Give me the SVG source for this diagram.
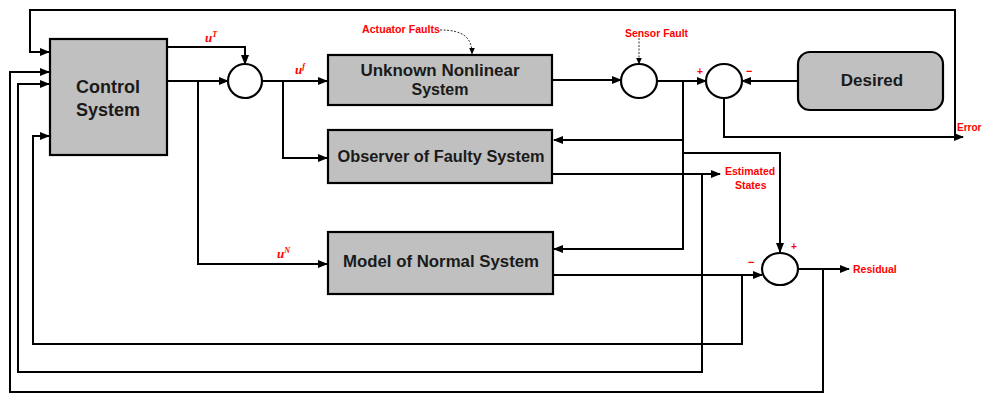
<svg xmlns="http://www.w3.org/2000/svg" width="984" height="394" viewBox="0 0 984 394">
<style>
.box{fill:#c0c0c0;stroke:#000;stroke-width:2.2}
.sum{fill:#fff;stroke:#000;stroke-width:2.2}
.t{font-family:"Liberation Sans",Arial,sans-serif;font-weight:bold;fill:#1a1a1a;text-anchor:middle}
.r{font-family:"Liberation Sans",Arial,sans-serif;font-weight:bold;fill:#ff0000}
.u{font-family:"Liberation Serif","Times New Roman",serif;font-weight:bold;font-style:italic;fill:#ff0000}
.ln{fill:none;stroke:#000;stroke-width:2}
.dot{fill:none;stroke:#333;stroke-width:1;stroke-dasharray:2 1.5}
</style>
<defs>
<marker id="ah" markerUnits="userSpaceOnUse" markerWidth="10" markerHeight="8" refX="9" refY="4" orient="auto">
<path d="M0,0 L10,4 L0,8 Z" fill="#000"/>
</marker>
<marker id="ahs" markerUnits="userSpaceOnUse" markerWidth="7" markerHeight="6" refX="6.5" refY="3" orient="auto">
<path d="M0,0 L7,3 L0,6 Z" fill="#000"/>
</marker>
</defs>
<rect width="984" height="394" fill="#fff"/>
<g id="connectors">
<path class="ln" d="M724,98 V137 H963" marker-end="url(#ah)"/>
<path class="ln" d="M955,137 V10 H30 V52 H49" marker-end="url(#ah)"/>
<path class="ln" d="M823,269 V392 H10 V72 H49" marker-end="url(#ah)"/>
<path class="ln" d="M702,174 V372 H18 V84 H49" marker-end="url(#ah)"/>
<path class="ln" d="M742,275 V344 H33 V136 H49" marker-end="url(#ah)"/>
<path class="ln" d="M167,47 H245 V64" marker-end="url(#ah)"/>
<path class="ln" d="M167,81 H228" marker-end="url(#ah)"/>
<path class="ln" d="M198,81 V264 H327" marker-end="url(#ah)"/>
<path class="ln" d="M262,81 H327" marker-end="url(#ah)"/>
<path class="ln" d="M283,81 V158 H327" marker-end="url(#ah)"/>
<path class="ln" d="M552,80 H621" marker-end="url(#ah)"/>
<path class="ln" d="M657,81 H706" marker-end="url(#ah)"/>
<path class="ln" d="M798,81 H742" marker-end="url(#ah)"/>
<path class="ln" d="M683,81 V249 H554" marker-end="url(#ah)"/>
<path class="ln" d="M683,140 H554" marker-end="url(#ah)"/>
<path class="ln" d="M683,153 H780 V252" marker-end="url(#ah)"/>
<path class="ln" d="M552,174 H720" marker-end="url(#ah)"/>
<path class="ln" d="M552,275 H762" marker-end="url(#ah)"/>
<path class="ln" d="M798,269 H849" marker-end="url(#ah)"/>
<path class="dot" d="M440,30 C464,30 472,38 472,54" marker-end="url(#ahs)"/>
<path class="dot" d="M639,38 V64" marker-end="url(#ahs)"/>
</g>
<g id="control">
<rect class="box" x="50" y="39" width="117" height="116"/>
<text class="t" x="108" y="93" font-size="18">Control</text>
<text class="t" x="108" y="116" font-size="18">System</text>
</g>
<g id="unknown">
<rect class="box" x="328" y="55" width="224" height="50"/>
<text class="t" x="440" y="76" font-size="16" textLength="159" lengthAdjust="spacingAndGlyphs">Unknown Nonlinear</text>
<text class="t" x="440" y="95" font-size="16">System</text>
</g>
<g id="observer">
<rect class="box" x="328" y="130" width="224" height="53"/>
<text class="t" x="441" y="162" font-size="16" textLength="207" lengthAdjust="spacingAndGlyphs">Observer of Faulty System</text>
</g>
<g id="model">
<rect class="box" x="328" y="232" width="225" height="62"/>
<text class="t" x="441" y="267" font-size="16" textLength="196" lengthAdjust="spacingAndGlyphs">Model of Normal System</text>
</g>
<g id="desired">
<rect class="box" x="798" y="52" width="145" height="58" rx="12"/>
<text class="t" x="872" y="86" font-size="17">Desired</text>
</g>
<g id="sum1"><ellipse class="sum" cx="245" cy="81" rx="17" ry="17"/></g>
<g id="sum2"><ellipse class="sum" cx="639" cy="81" rx="18" ry="17"/></g>
<g id="sum3"><ellipse class="sum" cx="724" cy="81" rx="18" ry="17"/></g>
<g id="sum4"><ellipse class="sum" cx="780" cy="269" rx="18" ry="16"/></g>
<g id="labels">
<text class="u" x="205" y="42" font-size="13">u<tspan font-size="8" dy="-5">T</tspan></text>
<text class="u" x="295" y="74" font-size="13">u<tspan font-size="8" dy="-5">f</tspan></text>
<text class="u" x="277" y="258" font-size="13">u<tspan font-size="8" dy="-5">N</tspan></text>
<text class="r" x="362" y="33" font-size="10.5" textLength="78" lengthAdjust="spacingAndGlyphs">Actuator Faults</text>
<text class="r" x="625" y="37" font-size="10.5" textLength="63" lengthAdjust="spacingAndGlyphs">Sensor Fault</text>
<text class="r" x="725" y="175" font-size="10.5">Estimated</text>
<text class="r" x="735" y="189" font-size="10.5">States</text>
<text class="r" x="853" y="273" font-size="10.5">Residual</text>
<text class="r" x="957" y="131" font-size="10">Error</text>
<text class="r" x="697" y="75" font-size="10">+</text>
<text class="r" x="746" y="75" font-size="11">−</text>
<text class="r" x="791" y="250" font-size="10">+</text>
<text class="r" x="748" y="266" font-size="11">−</text>
</g>
</svg>
